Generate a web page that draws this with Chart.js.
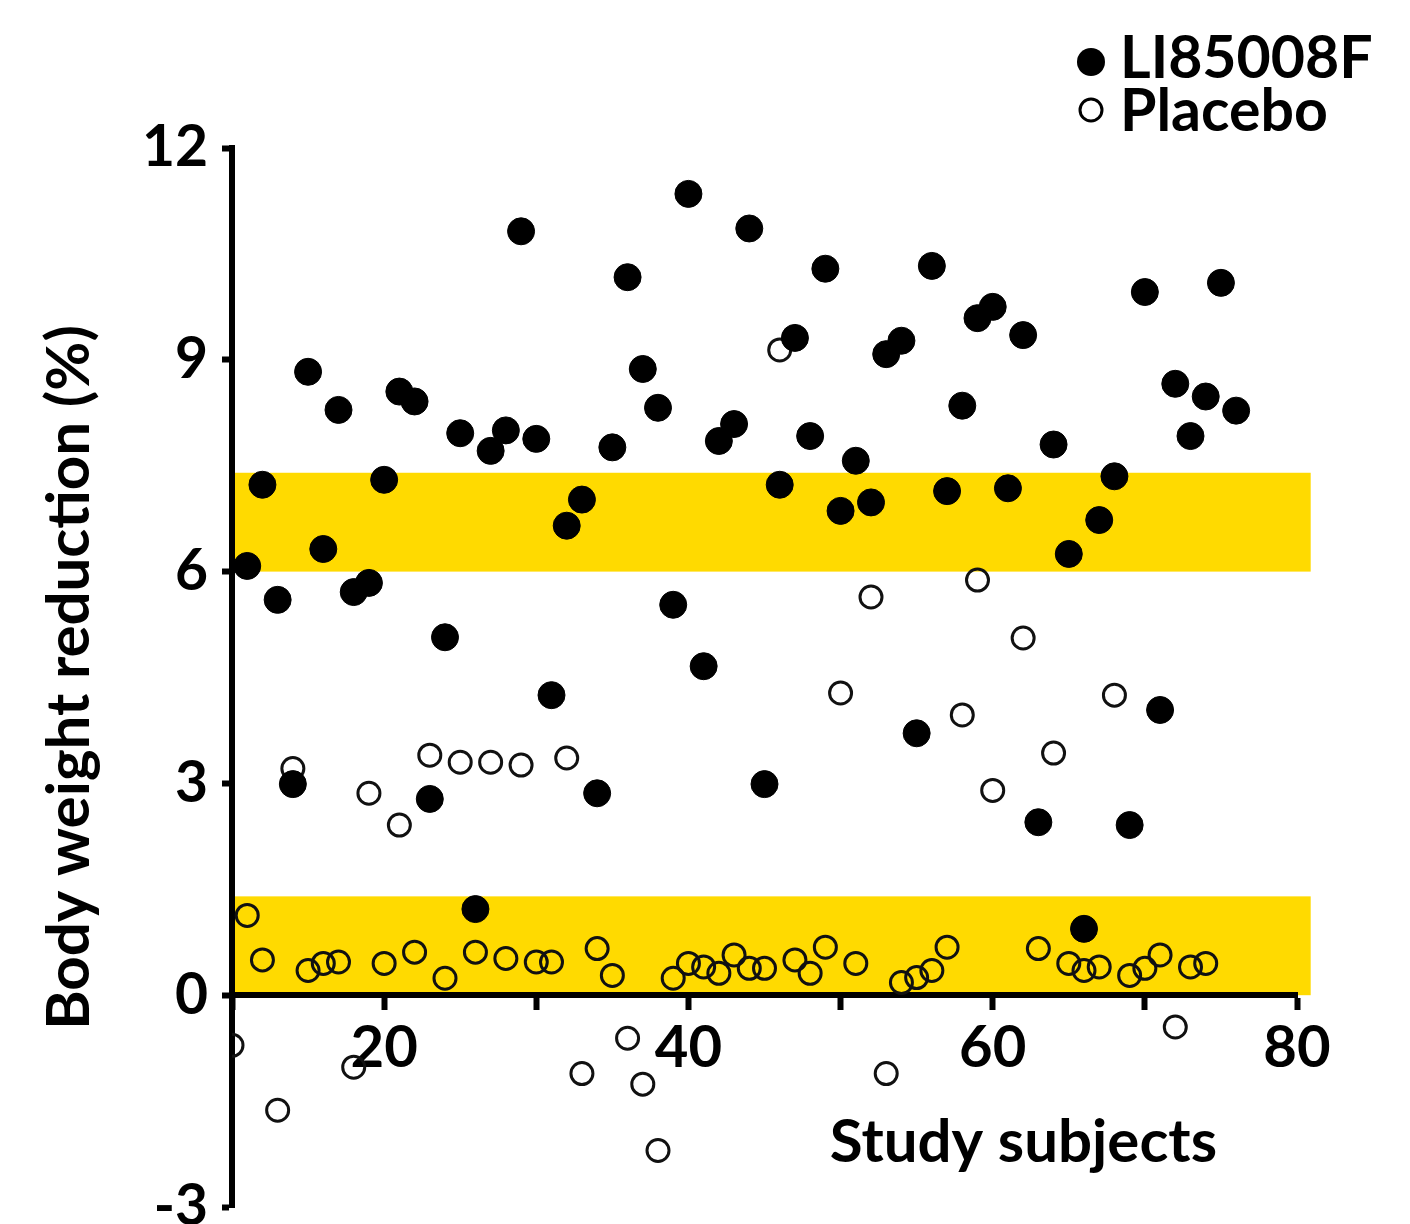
<!DOCTYPE html>
<html>
<head>
<meta charset="utf-8">
<script src="https://cdn.jsdelivr.net/npm/chart.js@4"></script>
<style>
  html, body { margin: 0; padding: 0; background: #ffffff; }
  #wrap { width: 1410px; height: 1224px; position: relative; }
</style>
</head>
<body>
<div id="wrap"><canvas id="c" width="1410" height="1224"></canvas></div>
<script>
// ---------- data ----------
const liSubjects = [11,12,13,14,15,16,17,18,19,20,21,22,23,24,25,26,27,28,29,30,31,32,33,34,35,36,37,38,39,40,41,42,43,44,45,46,47,48,49,50,51,52,53,54,55,56,57,58,59,60,61,62,63,64,65,66,67,68,69,70,71,72,73,74,75,76];
const liReduction = [6.08,7.23,5.60,2.99,8.83,6.32,8.29,5.71,5.84,7.30,8.55,8.41,2.78,5.07,7.96,1.22,7.71,8.00,10.82,7.88,4.25,6.65,7.02,2.86,7.76,10.17,8.87,8.32,5.53,11.35,4.66,7.85,8.09,10.86,2.99,7.23,9.31,7.92,10.29,6.86,7.57,6.98,9.08,9.27,3.71,10.33,7.14,8.35,9.59,9.75,7.18,9.35,2.45,7.80,6.25,0.94,6.73,7.35,2.41,9.96,4.04,8.66,7.92,8.48,10.09,8.28];

const placeboSubjects = [10,11,12,13,14,15,16,17,18,19,20,21,22,23,24,25,26,27,28,29,30,31,32,33,34,35,36,37,38,39,40,41,42,43,44,45,46,47,48,49,50,51,52,53,54,55,56,57,58,59,60,62,63,64,65,66,67,68,69,70,71,72,73,74];
const placeboReduction = [-0.71,1.13,0.50,-1.63,3.21,0.35,0.45,0.47,-1.02,2.86,0.45,2.41,0.61,3.40,0.24,3.30,0.61,3.30,0.52,3.26,0.47,0.47,3.36,-1.11,0.66,0.28,-0.61,-1.26,-2.20,0.24,0.45,0.40,0.31,0.57,0.38,0.38,9.14,0.50,0.31,0.68,4.28,0.45,5.64,-1.11,0.18,0.25,0.35,0.68,3.97,5.88,2.90,5.06,0.66,3.43,0.45,0.35,0.40,4.25,0.28,0.38,0.57,-0.45,0.40,0.45];

const seriesNames = ['LI85008F', 'Placebo'];
const xTickLabels = [20, 40, 60, 80];
const yTickValues = [-3, 0, 3, 6, 9, 12];
const bandLow = [6.0, 0.0];
const bandHigh = [7.4, 1.4];
const bandXStart = 10;
const bandXEnd = 80.9;
const xAxisTitle = 'Study subjects';
const yAxisTitle = 'Body weight reduction (%)';

// ---------- styles ----------
const FONT = 'Lato';
const WEIGHT = 'bold';
const BAND_COLOR = '#FFDA00';
const INK = '#000000';

const toPoints = (xs, ys) => xs.map((v, i) => ({ x: v, y: ys[i] }));

const bandPlugin = {
  id: 'bands',
  beforeDraw(chart) {
    const { ctx, scales: { x, y } } = chart;
    ctx.save();
    ctx.fillStyle = BAND_COLOR;
    bandLow.forEach((lo, i) => {
      const x0 = x.getPixelForValue(bandXStart);
      const x1 = x.getPixelForValue(bandXEnd);
      const yt = y.getPixelForValue(bandHigh[i]);
      const yb = y.getPixelForValue(lo);
      ctx.fillRect(x0, yt, x1 - x0, yb - yt);
    });
    ctx.restore();
  }
};

const labelsPlugin = {
  id: 'labels',
  afterDraw(chart) {
    const { ctx, chartArea, scales: { y } } = chart;
    ctx.save();
    // x-axis title
    ctx.font = `${WEIGHT} 60px ${FONT}`;
    ctx.fillStyle = INK;
    ctx.textAlign = 'right';
    ctx.textBaseline = 'alphabetic';
    ctx.fillText(xAxisTitle, chartArea.right - 80, y.getPixelForValue(0) + 167);

    // legend
    const lx = 1091;
    ctx.textAlign = 'left';
    ctx.font = `${WEIGHT} 59px ${FONT}`;
    ctx.beginPath();
    ctx.arc(lx, 62, 14, 0, Math.PI * 2);
    ctx.fillStyle = INK;
    ctx.fill();
    ctx.fillText(seriesNames[0], 1120, 78);
    ctx.beginPath();
    ctx.arc(lx, 110, 11, 0, Math.PI * 2);
    ctx.lineWidth = 3;
    ctx.strokeStyle = INK;
    ctx.stroke();
    ctx.fillText(seriesNames[1], 1120, 131);
    ctx.restore();
  }
};

new Chart(document.getElementById('c'), {
  type: 'scatter',
  data: {
    datasets: [
      {
        label: seriesNames[0],
        data: toPoints(liSubjects, liReduction),
        pointRadius: 13.5,
        pointHoverRadius: 13.5,
        backgroundColor: INK,
        borderColor: INK,
        borderWidth: 1
      },
      {
        label: seriesNames[1],
        data: toPoints(placeboSubjects, placeboReduction),
        pointRadius: 11,
        pointHoverRadius: 11,
        backgroundColor: 'rgba(0,0,0,0)',
        borderColor: '#111111',
        borderWidth: 3
      }
    ]
  },
  options: {
    responsive: false,
    animation: false,
    devicePixelRatio: 1,
    layout: { padding: { left: 0, right: 113, top: 148, bottom: 17 } },
    plugins: {
      legend: { display: false },
      tooltip: { enabled: false }
    },
    scales: {
      x: {
        type: 'linear',
        min: 10,
        max: 80,
        position: { y: 0 },
        afterBuildTicks(scale) {
          scale.ticks = [10, 20, 30, 40, 50, 60, 70, 80].map(v => ({ value: v }));
        },
        ticks: {
          autoSkip: false,
          maxRotation: 0,
          padding: 6,
          color: INK,
          font: { family: FONT, weight: WEIGHT, size: 58 },
          callback: (v) => (xTickLabels.includes(v) ? String(v) : '')
        },
        grid: { drawOnChartArea: false, drawTicks: true, tickLength: 12, tickWidth: 6, tickColor: INK },
        border: { display: true, width: 6, color: INK }
      },
      y: {
        min: -3,
        max: 12,
        afterBuildTicks(scale) {
          scale.ticks = yTickValues.map(v => ({ value: v }));
        },
        ticks: {
          padding: 14,
          color: INK,
          font: { family: FONT, weight: WEIGHT, size: 57 }
        },
        grid: { drawOnChartArea: false, drawTicks: true, tickLength: 10, tickWidth: 6, tickColor: INK },
        border: { display: true, width: 6, color: INK },
        title: {
          display: true,
          text: yAxisTitle,
          color: INK,
          font: { family: FONT, weight: WEIGHT, size: 60 },
          padding: { top: 34, bottom: 0 }
        },
        afterFit(scale) {
          scale.width = 232;
          scale.paddingTop = 0;
          scale.paddingBottom = 0;
        }
      }
    }
  },
  plugins: [bandPlugin, labelsPlugin]
});
</script>
</body>
</html>
